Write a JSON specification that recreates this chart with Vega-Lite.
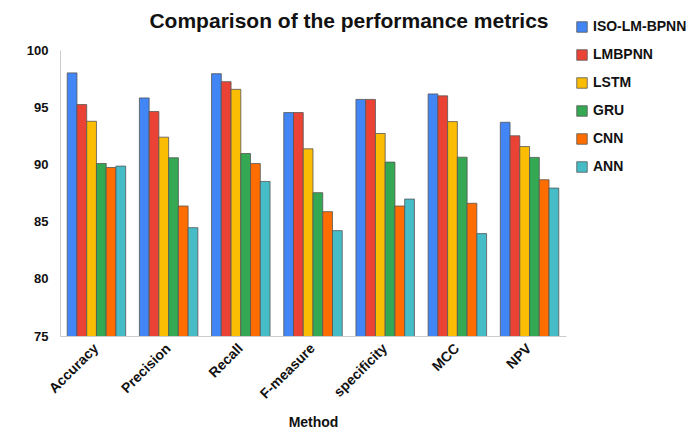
{
  "$schema": "https://vega.github.io/schema/vega-lite/v6.json",
  "autosize": "none",
  "width": 506,
  "height": 286,
  "padding": {"left": 60, "top": 50, "right": 133, "bottom": 108},
  "background": "white",
  "title": {
    "text": "Comparison of the performance metrics",
    "font": "Liberation Sans",
    "fontSize": 21,
    "fontWeight": "bold",
    "color": "#111111",
    "anchor": "middle",
    "frame": "group",
    "dx": 36,
    "offset": -12
  },
  "data": {
    "values": [
      {"Metric": "Accuracy", "Model": "ISO-LM-BPNN", "Value": 98.0},
      {"Metric": "Accuracy", "Model": "LMBPNN", "Value": 95.23},
      {"Metric": "Accuracy", "Model": "LSTM", "Value": 93.77},
      {"Metric": "Accuracy", "Model": "GRU", "Value": 90.08},
      {"Metric": "Accuracy", "Model": "CNN", "Value": 89.73},
      {"Metric": "Accuracy", "Model": "ANN", "Value": 89.85},
      {"Metric": "Precision", "Model": "ISO-LM-BPNN", "Value": 95.81},
      {"Metric": "Precision", "Model": "LMBPNN", "Value": 94.62},
      {"Metric": "Precision", "Model": "LSTM", "Value": 92.38},
      {"Metric": "Precision", "Model": "GRU", "Value": 90.58},
      {"Metric": "Precision", "Model": "CNN", "Value": 86.36},
      {"Metric": "Precision", "Model": "ANN", "Value": 84.47},
      {"Metric": "Recall", "Model": "ISO-LM-BPNN", "Value": 97.93},
      {"Metric": "Recall", "Model": "LMBPNN", "Value": 97.23},
      {"Metric": "Recall", "Model": "LSTM", "Value": 96.56},
      {"Metric": "Recall", "Model": "GRU", "Value": 90.95},
      {"Metric": "Recall", "Model": "CNN", "Value": 90.08},
      {"Metric": "Recall", "Model": "ANN", "Value": 88.51},
      {"Metric": "F-measure", "Model": "ISO-LM-BPNN", "Value": 94.53},
      {"Metric": "F-measure", "Model": "LMBPNN", "Value": 94.53},
      {"Metric": "F-measure", "Model": "LSTM", "Value": 91.36},
      {"Metric": "F-measure", "Model": "GRU", "Value": 87.53},
      {"Metric": "F-measure", "Model": "CNN", "Value": 85.87},
      {"Metric": "F-measure", "Model": "ANN", "Value": 84.21},
      {"Metric": "specificity", "Model": "ISO-LM-BPNN", "Value": 95.68},
      {"Metric": "specificity", "Model": "LMBPNN", "Value": 95.68},
      {"Metric": "specificity", "Model": "LSTM", "Value": 92.7},
      {"Metric": "specificity", "Model": "GRU", "Value": 90.2},
      {"Metric": "specificity", "Model": "CNN", "Value": 86.36},
      {"Metric": "specificity", "Model": "ANN", "Value": 86.97},
      {"Metric": "MCC", "Model": "ISO-LM-BPNN", "Value": 96.16},
      {"Metric": "MCC", "Model": "LMBPNN", "Value": 95.99},
      {"Metric": "MCC", "Model": "LSTM", "Value": 93.74},
      {"Metric": "MCC", "Model": "GRU", "Value": 90.63},
      {"Metric": "MCC", "Model": "CNN", "Value": 86.6},
      {"Metric": "MCC", "Model": "ANN", "Value": 83.95},
      {"Metric": "NPV", "Model": "ISO-LM-BPNN", "Value": 93.68},
      {"Metric": "NPV", "Model": "LMBPNN", "Value": 92.5},
      {"Metric": "NPV", "Model": "LSTM", "Value": 91.56},
      {"Metric": "NPV", "Model": "GRU", "Value": 90.61},
      {"Metric": "NPV", "Model": "CNN", "Value": 88.66},
      {"Metric": "NPV", "Model": "ANN", "Value": 87.93}
    ]
  },
  "mark": {"type": "bar", "stroke": "#555555", "strokeWidth": 0.8, "clip": true},
  "encoding": {
    "x": {
      "field": "Metric",
      "type": "nominal",
      "sort": null,
      "title": "Method",
      "scale": {"paddingInner": 0.19, "paddingOuter": 0.1},
      "axis": {
        "labelAngle": -45,
        "labelAlign": "right",
        "labelBaseline": "middle",
        "labelFont": "Liberation Sans",
        "labelFontSize": 14,
        "labelFontWeight": "bold",
        "labelColor": "#111111",
        "labelPadding": 10,
        "ticks": false,
        "domainColor": "#cccccc",
        "titleFont": "Liberation Sans",
        "titleFontSize": 14,
        "titleFontWeight": "bold",
        "titleColor": "#111111",
        "titlePadding": 14
      }
    },
    "xOffset": {
      "field": "Model",
      "type": "nominal",
      "sort": ["ISO-LM-BPNN", "LMBPNN", "LSTM", "GRU", "CNN", "ANN"],
      "scale": {"paddingInner": 0, "paddingOuter": 0}
    },
    "y": {
      "field": "Value",
      "type": "quantitative",
      "title": null,
      "scale": {"domain": [75, 100], "zero": false, "nice": false},
      "axis": {
        "values": [75, 80, 85, 90, 95, 100],
        "grid": false,
        "ticks": false,
        "domainColor": "#cccccc",
        "labelFont": "Liberation Sans",
        "labelFontSize": 13,
        "labelFontWeight": "bold",
        "labelColor": "#111111",
        "labelPadding": 12
      }
    },
    "color": {
      "field": "Model",
      "type": "nominal",
      "title": null,
      "sort": ["ISO-LM-BPNN", "LMBPNN", "LSTM", "GRU", "CNN", "ANN"],
      "scale": {
        "domain": ["ISO-LM-BPNN", "LMBPNN", "LSTM", "GRU", "CNN", "ANN"],
        "range": ["#4285F4", "#EA4335", "#FBBC04", "#34A853", "#FF6D01", "#46BDC6"]
      },
      "legend": {
        "orient": "none",
        "legendX": 515,
        "legendY": -30,
        "symbolType": "square",
        "symbolSize": 110,
        "symbolStrokeColor": "#555555",
        "symbolStrokeWidth": 0.8,
        "symbolOpacity": 1,
        "labelFont": "Liberation Sans",
        "labelFontSize": 14,
        "labelFontWeight": "bold",
        "labelColor": "#111111",
        "labelOffset": 4,
        "rowPadding": 14
      }
    }
  },
  "config": {
    "view": {"stroke": null}
  }
}
